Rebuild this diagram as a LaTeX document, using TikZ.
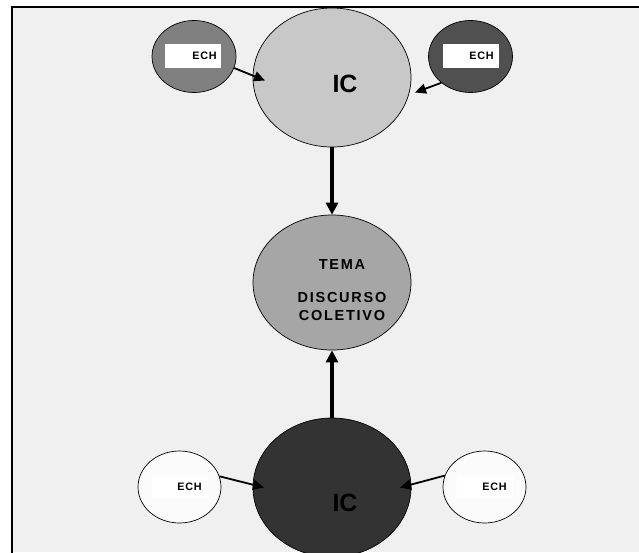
\documentclass[tikz,border=0pt]{standalone}
\usepackage{fontspec}
\setmainfont{Liberation Sans}
\usetikzlibrary{shapes.geometric,arrows.meta}
\definecolor{bgc}{HTML}{F0F0F0}
\definecolor{ictop}{HTML}{C8C8C8}
\definecolor{temac}{HTML}{A6A6A6}
\definecolor{icbot}{HTML}{333333}
\definecolor{echtl}{HTML}{808080}
\definecolor{echtr}{HTML}{505050}
\definecolor{echb}{HTML}{FBFBFB}
\tikzset{
  bigell/.style={ellipse, draw=black, line width=0.7pt, minimum width=158pt, minimum height=139pt, inner sep=0pt},
  smallell/.style={ellipse, draw=black, line width=0.7pt, minimum width=84pt, minimum height=72pt, inner sep=0pt},
  whitebox/.style={fill=white, draw=none, minimum width=56pt, minimum height=24pt, inner sep=0pt},
  echtext/.style={font=\fontsize{10.8}{12}\selectfont\bfseries\addfontfeature{LetterSpace=7}, inner sep=0pt},
  ictext/.style={font=\fontsize{25}{28}\selectfont\bfseries, inner sep=0pt},
  thinarrow/.style={line width=1.8pt, -{Triangle[length=11pt,width=10pt]}},
  thickarrow/.style={line width=3.6pt, -{Triangle[length=12pt,width=12pt]}},
}
\begin{document}
\begin{tikzpicture}[x=1pt,y=-1pt]
\useasboundingbox (0,0) rectangle (639,552);
\clip (0,0) rectangle (639,552);
\fill[white] (0,0) rectangle (639,552);
\fill[bgc] (12,7) rectangle (639,552);
\draw[line width=2pt] (12,560) -- (12,7) -- (645,7);

% big ellipses
\node[bigell, fill=ictop] (icT) at (332,77.5) {};
\node[bigell, fill=temac, minimum height=135pt] (tema) at (332,282.5) {};
\node[bigell, fill=icbot] (icB) at (332,487.5) {};

\node[ictext] (icTlabel) at (345,84) {IC};
\node[ictext, text=black] (icBlabel) at (345,503) {IC};
\node[font=\fontsize{14.5}{18}\selectfont\bfseries\addfontfeature{LetterSpace=12}, align=center, inner sep=0pt] (temalabel) at (342,290) {TEMA\\[15pt]DISCURSO\\COLETIVO};

% small ellipses
\node[smallell, fill=echtl] (echTL) at (194,56.5) {};
\node[smallell, fill=echtr] (echTR) at (470.5,56.5) {};
\node[smallell, fill=echb, minimum width=83pt] (echBL) at (179.5,487) {};
\node[smallell, fill=echb, minimum width=83pt] (echBR) at (484.5,487) {};

\node[whitebox] (boxTL) at (193,55.5) {};
\node[whitebox] (boxTR) at (471,55.5) {};
\node[whitebox, minimum height=22pt] (boxBL) at (180,487) {};
\node[whitebox, minimum height=22pt] (boxBR) at (485,487) {};

\node[echtext] (echTLt) at (204.5,55.5) {ECH};
\node[echtext] (echTRt) at (481.5,55.5) {ECH};
\node[echtext] (echBLt) at (189.5,487) {ECH};
\node[echtext] (echBRt) at (494.5,487) {ECH};

% arrow tips
\coordinate (tipTL) at (265,80.5);
\coordinate (tipTR) at (415,92.5);
\coordinate (tipBL) at (264,487.5);
\coordinate (tipBR) at (400,487.5);

\draw[thinarrow] (echTL.-16) -- (tipTL);
\draw[thinarrow] (echTR.222) -- (tipTR);
\draw[thinarrow] (echBL.15) -- (tipBL);
\draw[thinarrow] (echBR.164) -- (tipBR);

\draw[thickarrow] (icT.south) -- (tema.north);
\draw[thickarrow] (icB.north) -- (tema.south);
\end{tikzpicture}
\end{document}
